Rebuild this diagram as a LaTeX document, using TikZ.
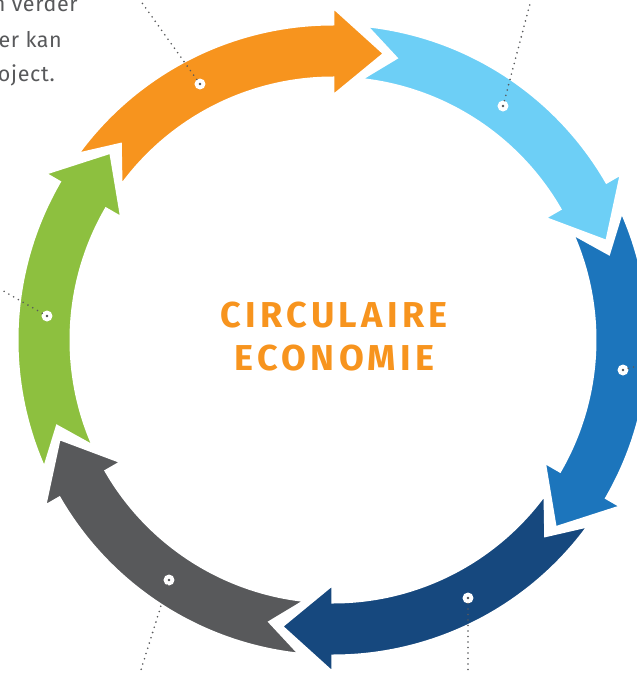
\documentclass[tikz,border=0pt]{standalone}
\usepackage{fontspec}
\setmainfont{Fira Sans}
\newfontfamily\titlefont[LetterSpace=12]{Fira Sans}
\newfontfamily\notefont[LetterSpace=3]{Fira Sans}
\definecolor{circorange}{HTML}{F7941E}
\definecolor{circlightblue}{HTML}{6DCFF6}
\definecolor{circblue}{HTML}{1C75BC}
\definecolor{circdarkblue}{HTML}{16487E}
\definecolor{circgray}{HTML}{58595B}
\definecolor{circgreen}{HTML}{8DC03F}
\definecolor{textgray}{HTML}{58595B}
\tikzset{
  arrowpart/.style={draw=white, line width=3, line join=miter},
  spot/.style={circle, fill=white, inner sep=0pt, minimum size=11},
  leader/.style={draw=textgray, line width=1.8, line cap=round, dash pattern=on 0pt off 5.5pt},
  note/.style={text=textgray, font=\notefont\fontsize{21.5}{35}\selectfont, inner sep=0pt},
  title/.style={text=circorange, font=\titlefont\bfseries\fontsize{36}{43}\selectfont, inner sep=0pt}
}
\begin{document}
\begin{tikzpicture}[x=1pt,y=1pt]
        \useasboundingbox (-333,-333) rectangle (304,340);

        % ring of arrows, clockwise
        \fill [circorange, arrowpart] (144:316) arc[start angle=144, end angle=90, radius=316] -- (90:333) -- (79.8:291) -- (90:244) -- (90:262) arc[start angle=90, end angle=144, radius=262] -- (137.4:289) -- cycle;
        \fill [circlightblue, arrowpart] (84:316) arc[start angle=84, end angle=30, radius=316] -- (30:333) -- (19.8:291) -- (30:244) -- (30:262) arc[start angle=30, end angle=84, radius=262] -- (77.4:289) -- cycle;
        \fill [circblue, arrowpart] (24:316) arc[start angle=24, end angle=-30, radius=316] -- (-30:333) -- (-40.2:291) -- (-30:244) -- (-30:262) arc[start angle=-30, end angle=24, radius=262] -- (17.4:289) -- cycle;
        \fill [circdarkblue, arrowpart] (-36:316) arc[start angle=-36, end angle=-90, radius=316] -- (-90:333) -- (-100.2:291) -- (-90:244) -- (-90:262) arc[start angle=-90, end angle=-36, radius=262] -- (-42.6:289) -- cycle;
        \fill [circgray, arrowpart] (-96:316) arc[start angle=-96, end angle=-150, radius=316] -- (-150:333) -- (-160.2:291) -- (-150:244) -- (-150:262) arc[start angle=-150, end angle=-96, radius=262] -- (-102.6:289) -- cycle;
        \fill [circgreen, arrowpart] (204:316) arc[start angle=204, end angle=150, radius=316] -- (150:333) -- (139.8:291) -- (150:244) -- (150:262) arc[start angle=150, end angle=204, radius=262] -- (197.4:289) -- cycle;

        % title
        \node [title, anchor=base] (titletop) at (1,13) {CIRCULAIRE};
        \node [title, anchor=base] (titlebottom) at (1.5,-30) {ECONOMIE};

        % cut-off note text
        \node [note, anchor=base east] (noteone) at (-255,328) {n verder};
        \node [note, anchor=base east] (notetwo) at (-271,293) {er kan};
        \node [note, anchor=base east] (notethree) at (-278,259) {oject.};

        % spots and leaders
        \node [spot] (spotorange) at (-133,256) {};
        \node [spot] (spotlightblue) at (170,234) {};
        \node [spot] (spotblue) at (290,-30) {};
        \node [spot] (spotdarkblue) at (135,-258) {};
        \node [spot] (spotgray) at (-164,-240) {};
        \node [spot] (spotgreen) at (-286,24) {};

        \coordinate (endorange) at (-193,340);
        \coordinate (endlightblue) at (198,340);
        \coordinate (endblue) at (304,-26);
        \coordinate (enddarkblue) at (135,-333);
        \coordinate (endgray) at (-193,-333);
        \coordinate (endgreen) at (-333,51);

        \draw [leader] (spotorange.center) -- (endorange);
        \draw [leader] (spotlightblue.center) -- (endlightblue);
        \draw [leader] (spotblue.center) -- (endblue);
        \draw [leader] (spotdarkblue.center) -- (enddarkblue);
        \draw [leader] (spotgray.center) -- (endgray);
        \draw [leader] (spotgreen.center) -- (endgreen);

        \fill [textgray] (spotorange.center) circle (1.4);
        \fill [textgray] (spotlightblue.center) circle (1.4);
        \fill [textgray] (spotblue.center) circle (1.4);
        \fill [textgray] (spotdarkblue.center) circle (1.4);
        \fill [textgray] (spotgray.center) circle (1.4);
        \fill [textgray] (spotgreen.center) circle (1.4);
\end{tikzpicture}
\end{document}
